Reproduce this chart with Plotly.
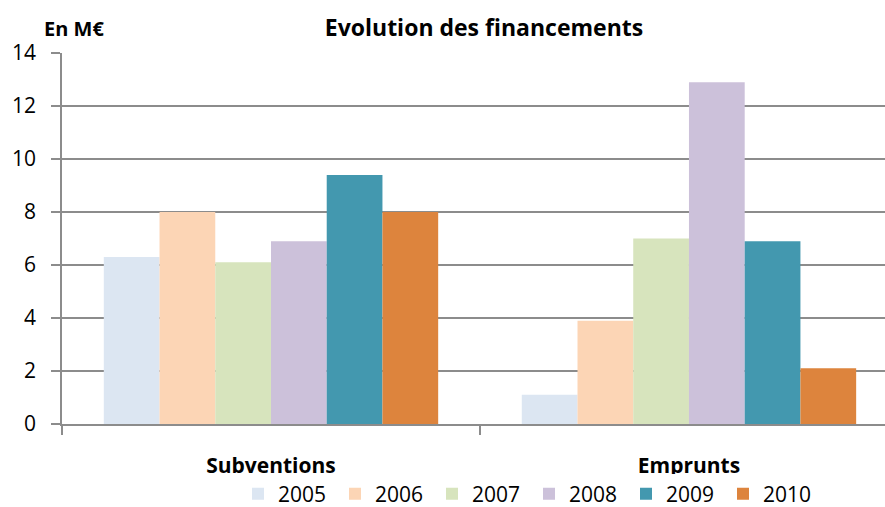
import plotly.graph_objects as go

categories = ["Subventions", "Emprunts"]
years = ["2005", "2006", "2007", "2008", "2009", "2010"]
values = {
    "2005": [6.3, 1.1],
    "2006": [8.0, 3.9],
    "2007": [6.1, 7.0],
    "2008": [6.9, 12.9],
    "2009": [9.4, 6.9],
    "2010": [8.0, 2.1],
}
colors = ["#dce6f2", "#fcd5b5", "#d7e4bd", "#ccc1da", "#4398af", "#dd843d"]

FONT = "Open Sans"

fig = go.Figure()
for year, color in zip(years, colors):
    fig.add_trace(go.Bar(name=year, x=categories, y=values[year], marker_color=color,
                         marker_line_width=0))

fig.update_layout(
    width=885, height=507,
    margin=dict(l=62, r=0, t=53, b=83),
    plot_bgcolor="white", paper_bgcolor="white",
    barmode="group", bargap=0.2, bargroupgap=0,
    font=dict(family=FONT, color="black"),
    title=dict(text="<b>Evolution des financements</b>", xref="container", x=484 / 885,
               xanchor="center", y=1 - 28 / 507, yanchor="middle",
               font=dict(size=23, family=FONT)),
    showlegend=True,
    legend=dict(orientation="h", xref="container", x=238 / 885, xanchor="left",
                yref="container", y=1 - 494 / 507, yanchor="middle", entrywidth=52,
                font=dict(size=21, family=FONT), traceorder="normal"),
)
fig.add_annotation(text="<b>En M€</b>", xref="paper", yref="paper", x=(42 - 62) / 823,
                   xanchor="left", y=1 + (53 - 29) / 371, yanchor="middle",
                   showarrow=False, font=dict(size=20, family=FONT))

fig.update_xaxes(range=[-0.5, 1.469], showline=True, linecolor="#8c8c8c", linewidth=1.5,
                 ticks="outside", tickson="boundaries", ticklen=9, tickcolor="#8c8c8c",
                 tickwidth=1.5, tickfont=dict(size=21, family=FONT), automargin=False,
                 ticklabelstandoff=22, tickprefix="<b>", ticksuffix="</b>")
fig.update_yaxes(range=[0, 14], dtick=2, showgrid=True, gridcolor="#8c8c8c", gridwidth=1.5,
                 showline=True, linecolor="#8c8c8c", linewidth=1.5, automargin=False,
                 ticks="outside", ticklen=9, tickcolor="#8c8c8c", tickwidth=1.5,
                 ticklabelstandoff=11, tickfont=dict(size=21, family=FONT), zeroline=False)

fig.write_html("out.html", config={"displayModeBar": False},
               post_script="document.body.style.margin='0';")
